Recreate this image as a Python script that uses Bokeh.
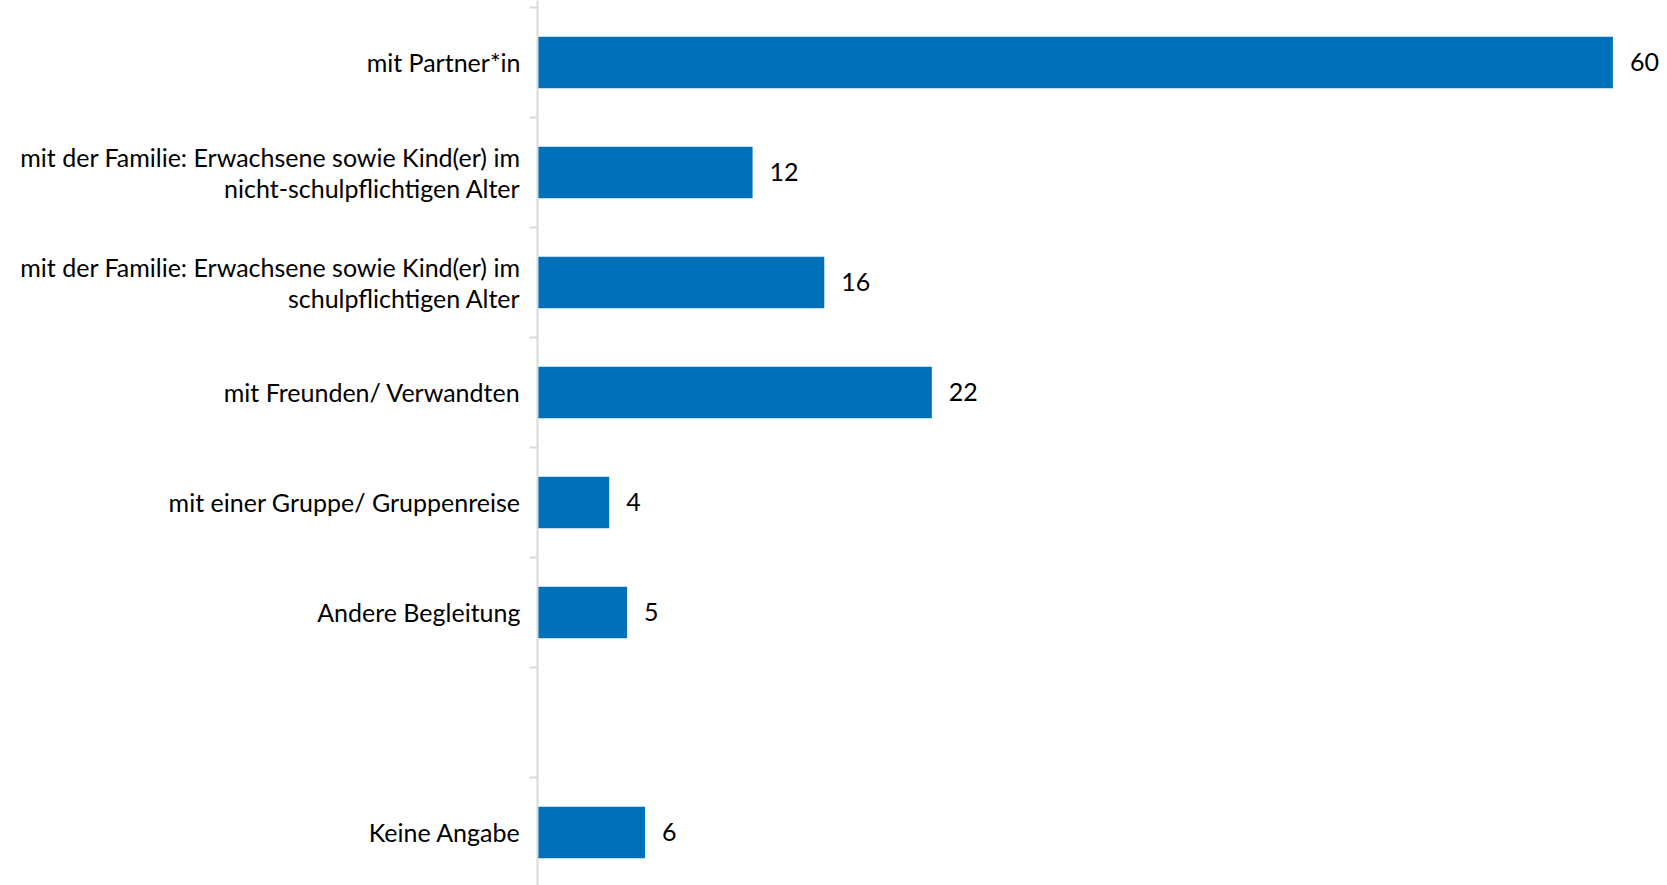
from bokeh.plotting import figure
from bokeh.models import Range1d, FixedTicker, ColumnDataSource
from bokeh.core.properties import value
from bokeh.embed import file_html
from bokeh.resources import INLINE

categories = [
    "mit Partner*in",
    "mit der Familie: Erwachsene sowie Kind(er) im\nnicht-schulpflichtigen Alter",
    "mit der Familie: Erwachsene sowie Kind(er) im\nschulpflichtigen Alter",
    "mit Freunden/ Verwandten",
    "mit einer Gruppe/ Gruppenreise",
    "Andere Begleitung",
    "Keine Angabe",
]
values = [60, 12, 16, 22, 4, 5, 6]

# slot positions: an empty slot sits before "Keine Angabe"
ypos = list(range(len(categories) - 1)) + [len(categories)]
n_slots = len(categories) + 1

FONT = "Lato"
BLUE = "#0070B8"

p = figure(width=1659, height=885, output_backend="svg", toolbar_location=None,
           x_range=Range1d(0, 62.6), y_range=Range1d(7.482, -0.5636),
           min_border_left=537, min_border_right=0, min_border_top=0, min_border_bottom=0)
p.outline_line_color = None
p.grid.visible = False
p.xaxis.visible = False
p.background_fill_color = "white"
p.border_fill_color = "white"

src = ColumnDataSource(dict(y=ypos, v=values, t=[str(v) for v in values]))
p.hbar(y="y", right="v", left=0, height=0.47, source=src, fill_color=BLUE, line_color=None)
p.text(x="v", y="y", text="t", source=src, x_offset=17, text_baseline="middle",
       text_align="left", text_font=value(FONT), text_font_size="25px", text_color="#000000")

ax = p.yaxis[0]
ax.ticker = FixedTicker(ticks=ypos, minor_ticks=[i - 0.5 for i in range(n_slots + 1)])
ax.major_label_overrides = {y: c for y, c in zip(ypos, categories)}
ax.major_tick_line_color = None
ax.major_tick_out = 0
ax.major_tick_in = 0
ax.minor_tick_out = 8
ax.minor_tick_in = 0
ax.minor_tick_line_color = "#d9d9d9"
ax.minor_tick_line_width = 2
ax.axis_line_color = "#d9d9d9"
ax.axis_line_width = 2
ax.major_label_standoff = 9
ax.major_label_text_font = FONT
ax.major_label_text_font_size = "25px"
ax.major_label_text_color = "#000000"
ax.major_label_text_line_height = 1.05

open("out.html", "w").write(file_html(p, INLINE))
